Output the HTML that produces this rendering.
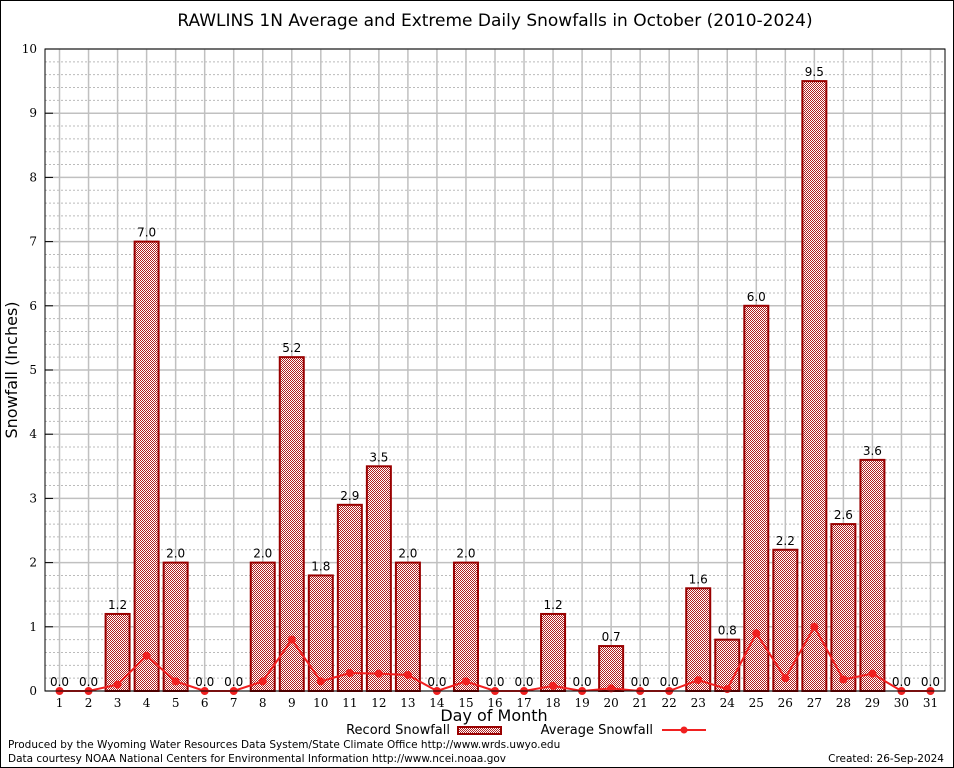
<!DOCTYPE html>
<html><head><meta charset="utf-8"><style>
body{margin:0;background:#fff}
svg{display:block;font-family:"DejaVu Sans","Liberation Sans",sans-serif}
</style></head><body>
<svg id="chart" width="954" height="768" viewBox="0 0 954 768">
<defs>
<pattern id="chk" width="2" height="2" patternUnits="userSpaceOnUse">
<rect width="2" height="2" fill="#fff"/><rect width="1" height="1" fill="#b02020"/><rect x="1" y="1" width="1" height="1" fill="#b02020"/>
</pattern>
</defs>
<rect x="0.5" y="0.5" width="953" height="767" fill="#fff" stroke="#000"/>
<text x="495" y="26" font-size="17" text-anchor="middle">RAWLINS 1N Average and Extreme Daily Snowfalls in October (2010-2024)</text>
<g id="grid"></g>
<g id="bars"></g>
<g id="line"></g>
<rect x="45" y="49" width="900" height="642" fill="none" stroke="#000"/>
<g id="axes" font-family="'DejaVu Serif','Liberation Serif',serif" font-size="12"></g>
<text x="17" y="370" font-size="16" text-anchor="middle" transform="rotate(-90 17 370)">Snowfall (Inches)</text>
<text x="494" y="721" font-size="16" text-anchor="middle">Day of Month</text>
<g font-size="13">
<text x="450" y="734" text-anchor="end">Record Snowfall</text>
<rect x="458" y="727" width="43" height="7" fill="url(#chk)" stroke="#900" stroke-width="2"/>
<text x="653" y="734" text-anchor="end">Average Snowfall</text>
<line x1="662" y1="730" x2="706" y2="730" stroke="#f02020" stroke-width="2"/>
<circle cx="684" cy="730" r="3.5" fill="#f02020"/>
</g>
<text x="8" y="748" font-size="10.5">Produced by the Wyoming Water Resources Data System/State Climate Office http://www.wrds.uwyo.edu</text>
<text x="8" y="762" font-size="10.5">Data courtesy NOAA National Centers for Environmental Information http://www.ncei.noaa.gov</text>
<text x="944" y="762" font-size="10.5" text-anchor="end">Created:  26-Sep-2024</text>
</svg>
<script>
const days=[1,2,3,4,5,6,7,8,9,10,11,12,13,14,15,16,17,18,19,20,21,22,23,24,25,26,27,28,29,30,31];
const recordSnow=[0,0,1.2,7.0,2.0,0,0,2.0,5.2,1.8,2.9,3.5,2.0,0,2.0,0,0,1.2,0,0.7,0,0,1.6,0.8,6.0,2.2,9.5,2.6,3.6,0,0];
const avgSnow=[0,0,0.1,0.55,0.15,0,0,0.15,0.8,0.15,0.28,0.27,0.25,0,0.15,0,0,0.08,0,0.04,0,0,0.17,0.03,0.9,0.2,1.0,0.18,0.27,0,0];
const yTicks=[0,1,2,3,4,5,6,7,8,9,10];
const NS="http://www.w3.org/2000/svg";
const L=45,R=945,T=49,B=691,yMax=10;
const xs=d=>L+(d-0.5)*(R-L)/31;
const ys=v=>B-v*(B-T)/yMax;
function mk(tag,attrs,parent){const e=document.createElementNS(NS,tag);for(const k in attrs)e.setAttribute(k,attrs[k]);parent.appendChild(e);return e;}
const grid=document.getElementById('grid'),bars=document.getElementById('bars'),line=document.getElementById('line'),axes=document.getElementById('axes');
for(let v=0;v<yMax;v+=0.2){const y=ys(v);if(Math.abs(v-Math.round(v))<1e-6)continue;
 const g=mk('line',{x1:L,x2:R,y1:y,y2:y,stroke:'#bbb','stroke-dasharray':'2,2'},grid);
 
 }
yTicks.forEach(v=>{const y=ys(v);
 const g=mk('line',{x1:L,x2:R,y1:y,y2:y,stroke:'#c0c0c0','stroke-width':1.5},grid);
 
 
 const t=mk('text',{x:L-8,y:y+4,'text-anchor':'end'},axes);t.textContent=v;
 
 
 const tk=mk('line',{x1:L,x2:L+8,y1:y,y2:y,stroke:'#000'},axes);
 
 
});
days.forEach((d,i)=>{const x=xs(d);
 const g=mk('line',{x1:x,x2:x,y1:T,y2:B,stroke:'#c0c0c0','stroke-width':1.5},grid);
 
 
 const t=mk('text',{x:x,y:B+16,'text-anchor':'middle'},axes);t.textContent=d;
 
 
 const v=recordSnow[i];
 if(v>0){const b=mk('rect',{x:x-12,y:ys(v),width:24,height:B-ys(v),fill:'url(#chk)',stroke:'#990000','stroke-width':2},bars);
  
  }
 const lb=mk('text',{x:x,y:ys(v)-5,'text-anchor':'middle','font-size':12},bars);lb.textContent=v.toFixed(1);
 
 
});
const pts=days.map((d,i)=>xs(d)+','+ys(avgSnow[i])).join(' ');
const pl=mk('polyline',{points:pts,fill:'none',stroke:'#f02020','stroke-width':2},line);


days.forEach((d,i)=>{const c=mk('circle',{cx:xs(d),cy:ys(avgSnow[i]),r:4,fill:'#f02020'},line);
 
 });
</script>
</body></html>
